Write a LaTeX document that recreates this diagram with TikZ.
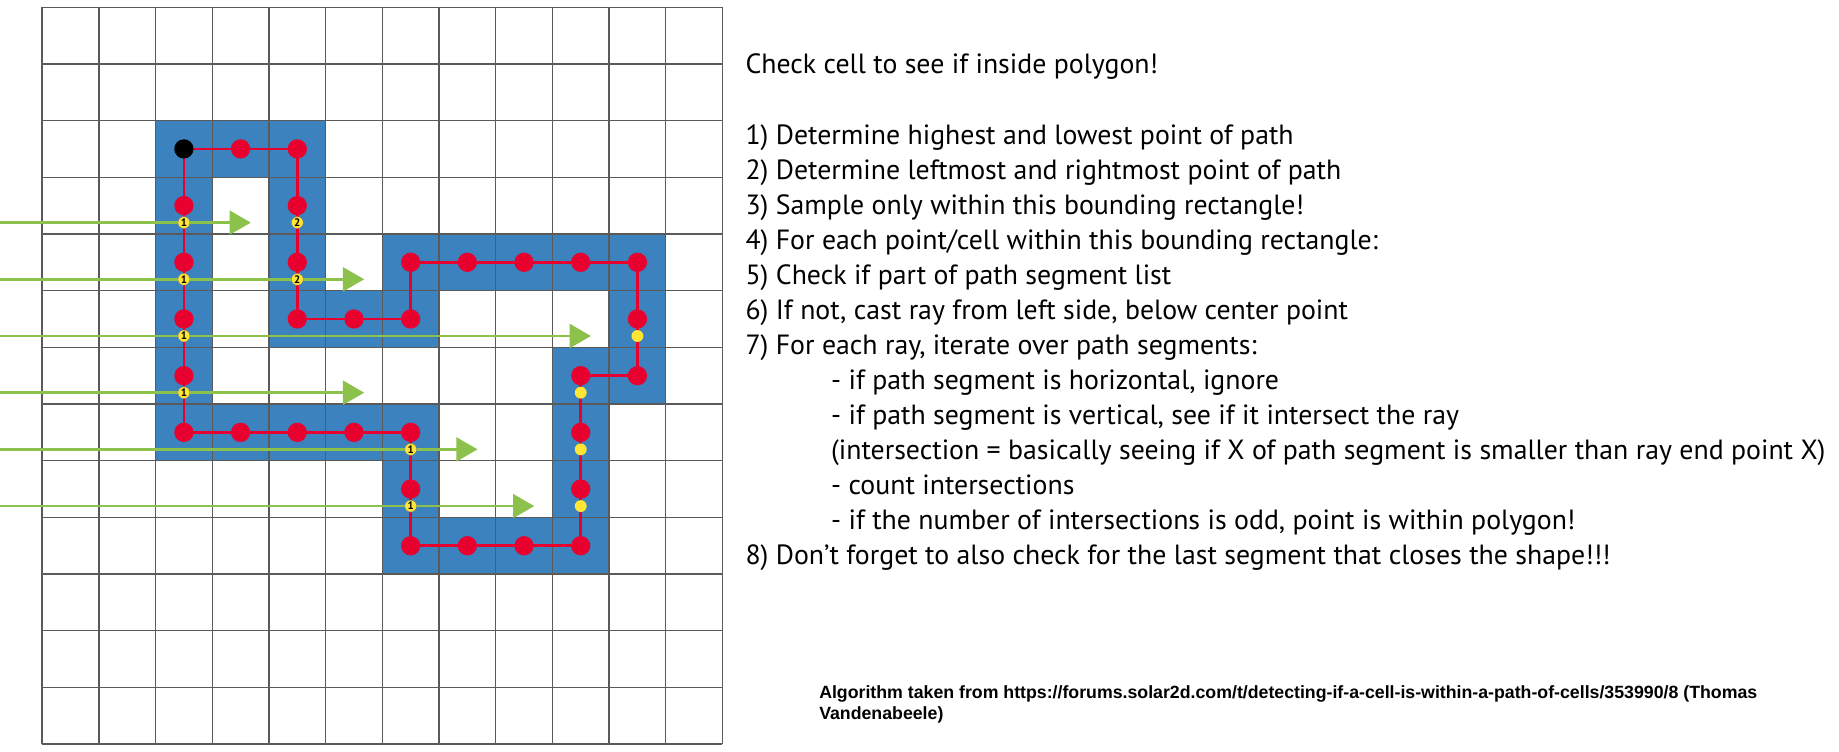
\documentclass[tikz,border=0pt]{standalone}
\usepackage{fontspec}
\setmainfont{PT Sans}
\newfontfamily\notefont{Liberation Sans}
\usetikzlibrary{arrows.meta}

\definecolor{cellblue}{HTML}{3B82BF}
\definecolor{pathred}{HTML}{E8002E}
\definecolor{hityellow}{HTML}{FFE534}
\definecolor{raygreen}{HTML}{8CC24B}
\definecolor{gridgray}{HTML}{5A5A5A}

\tikzset{
  gridline/.style={draw=gridgray, line width=0.7pt},
  pathcell/.style={fill=cellblue},
  redline/.style={draw=pathred, line width=1.3pt},
  reddot/.style={circle, fill=pathred, inner sep=0pt, minimum size=0.34cm},
  startdot/.style={circle, fill=black, inner sep=0pt, minimum size=0.34cm},
  hit/.style={circle, fill=hityellow, inner sep=0pt, minimum size=0.21cm},
  hitcount/.style={hit, draw=black!50, line width=0.2pt, font=\fontsize{5.5}{5.5}\selectfont\bfseries},
  ray/.style={draw=raygreen, line width=1.4pt, -{Triangle[length=0.375cm, width=0.42cm]}},
  steptext/.style={anchor=base west, inner sep=0pt, font=\fontsize{13.95}{16}\selectfont},
  notetext/.style={anchor=base west, inner sep=0pt, font=\notefont\bfseries\fontsize{8.9}{10}\selectfont},
}

\begin{document}
\begin{tikzpicture}
\useasboundingbox (-0.744,-0.121) rectangle (31.695,13.127);

% cells of the path, top row = 0
\foreach \c/\r [count=\i] in {2/2,3/2,4/2,4/3,4/4,4/5,5/5,6/5,6/4,7/4,8/4,9/4,10/4,10/5,10/6,9/6,
    9/7,9/8,9/9,8/9,7/9,6/9,6/8,6/7,5/7,4/7,3/7,2/7,2/6,2/5,2/4,2/3} {
  \fill[pathcell] (\c,12-\r) rectangle ++(1,1);
  \coordinate (c\i) at (\c+0.5,12.5-\r);
}
\draw[gridline] (0,0) grid (12,13);

% segments
\draw[redline] (c1) \foreach \i in {2,...,32} { -- (c\i) } -- cycle;
\foreach \i in {2,...,32}
  \node[reddot] (d\i) at (c\i) {};
\node[startdot] (d1) at (c1) {};

% rays
\foreach \r/\x in {3/3.68,4/5.68,5/9.68,6/5.68,7/7.68,8/8.68} {
  \coordinate (rs\r) at (-0.744,12.2-\r);
  \coordinate (re\r) at (\x,12.2-\r);
  \draw[ray] (rs\r) -- (re\r);
}

% intersections
\foreach \c/\r/\n in {2/3/1,4/3/2,2/4/1,4/4/2,2/5/1,2/6/1,6/7/1,6/8/1}
  \node[hitcount] (h\c-\r) at (\c+0.5,12.2-\r) {\n};
\foreach \c/\r in {10/5,9/6,9/7,9/8}
  \node[hit] (h\c-\r) at (\c+0.5,12.2-\r) {};

% text
\node[steptext] (title) at (12.40,11.834) {Check cell to see if inside polygon!};
\foreach \x/\txt [count=\k from 0] in {
    12.40/{1) Determine highest and lowest point of path},
    12.40/{2) Determine leftmost and rightmost point of path},
    12.40/{3) Sample only within this bounding rectangle!},
    12.40/{4) For each point/cell within this bounding rectangle:},
    12.40/{5) Check if part of path segment list},
    12.40/{6) If not, cast ray from left side, below center point},
    12.40/{7) For each ray, iterate over path segments:},
    13.91/{- if path segment is horizontal, ignore},
    13.91/{- if path segment is vertical, see if it intersect the ray},
    13.91/{(intersection = basically seeing if X of path segment is smaller than ray end point X)},
    13.91/{- count intersections},
    13.91/{- if the number of intersections is odd, point is within polygon!},
    12.40/{8) Don’t forget to also check for the last segment that closes the shape!!!}}
  \node[steptext] (line\k) at (\x,10.57-0.6174*\k) {\txt};

\node[notetext] (src1) at (13.70,0.797) {Algorithm taken from https://forums.solar2d.com/t/detecting-if-a-cell-is-within-a-path-of-cells/353990/8 (Thomas};
\node[notetext] (src2) at (13.70,0.444) {Vandenabeele)};
\end{tikzpicture}
\end{document}
